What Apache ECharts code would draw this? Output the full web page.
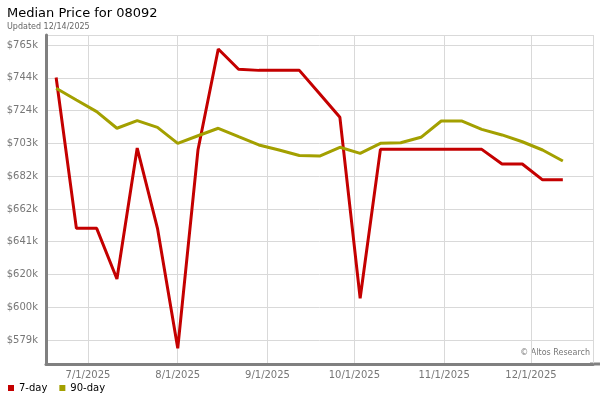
<!DOCTYPE html>
<html>
<head>
<meta charset="utf-8">
<script src="https://cdn.jsdelivr.net/npm/echarts@6/dist/echarts.min.js"></script>
<style>
html,body{margin:0;padding:0;background:#fff;}
#c{width:600px;height:400px;}
</style>
</head>
<body>
<div id="c"></div>
<script>
var dates = ['2025-06-20','2025-06-27','2025-07-04','2025-07-11','2025-07-18','2025-07-25','2025-08-01','2025-08-08','2025-08-15','2025-08-22','2025-08-29','2025-09-05','2025-09-12','2025-09-19','2025-09-26','2025-10-03','2025-10-10','2025-10-17','2025-10-24','2025-10-31','2025-11-07','2025-11-14','2025-11-21','2025-11-28','2025-12-05','2025-12-12'];
var sevenDay = [744500,649400,649400,617500,700000,649400,573800,699000,762500,749700,749000,749000,749000,734300,719400,605300,699200,699200,699200,699200,699200,699200,690000,690000,680000,680000];
var ninetyDay = [737700,730300,723000,712500,717300,713100,703000,707800,712500,707200,702000,698800,695300,695000,700500,696700,703000,703400,706800,717100,717100,711800,708300,704000,698800,691900];
var yTicks = [579000,599667,620333,641000,661667,682333,703000,723667,744333,765000];
var xTicks = ['2025-07-01','2025-08-01','2025-09-01','2025-10-01','2025-11-01','2025-12-01'];
var seriesNames = ['7-day','90-day'];

function parseD(s){var p=s.split('-');return new Date(+p[0],+p[1]-1,+p[2]).getTime();}
var xMin = new Date(2025,5,16,12).getTime();
var xMax = new Date(2025,11,22,10).getTime();
var yMin = 563900, yMax = 771300;
var xTickVals = xTicks.map(parseD);

var chart = echarts.init(document.getElementById('c'), null, {renderer:'canvas'});
var font = 'DejaVu Sans';
chart.setOption({
  animation:false,
  textStyle:{fontFamily:font},
  title:{
    text:'Median Price for 08092',
    subtext:'Updated 12/14/2025',
    left:2, top:2,
    itemGap:3,
    textStyle:{fontFamily:font,fontSize:13,fontWeight:'normal',color:'#000'},
    subtextStyle:{fontFamily:font,fontSize:8,color:'#666'}
  },
  legend:{
    left:3, top:378,
    itemWidth:6, itemHeight:6, itemGap:12,
    icon:'rect',
    textStyle:{fontFamily:font,fontSize:10,color:'#000'},
    data:seriesNames
  },
  grid:{left:46,right:7,top:35,bottom:36,containLabel:false},
  xAxis:{
    type:'value', min:xMin, max:xMax,
    axisLine:{show:true,lineStyle:{color:'#808080',width:3}},
    axisTick:{show:false,customValues:xTickVals.concat([xMax])},
    axisLabel:{customValues:xTickVals,color:'#777',fontSize:10,fontFamily:font,margin:6,
      formatter:function(v){var d=new Date(v);return (d.getMonth()+1)+'/'+d.getDate()+'/'+d.getFullYear();}},
    splitLine:{show:true,lineStyle:{color:'#d9d9d9',width:1}}
  },
  yAxis:{
    type:'value', min:yMin, max:yMax,
    axisLine:{show:true,lineStyle:{color:'#808080',width:3}},
    axisTick:{show:false,customValues:yTicks.concat([yMax])},
    axisLabel:{customValues:yTicks,color:'#777',fontSize:10,fontFamily:font,margin:8,
      formatter:function(v){return '$'+Math.round(v/1000)+'k';}},
    splitLine:{show:true,lineStyle:{color:'#d9d9d9',width:1}}
  },
  graphic:[{
    type:'text', right:10, top:349,
    style:{text:'\u00a9 Altos Research',fill:'#777',font:'8px DejaVu Sans'}
  },{
    type:'line', shape:{x1:590,y1:364,x2:600,y2:364},
    style:{stroke:'#808080',lineWidth:3}
  }],
  series:[
    {name:seriesNames[0],type:'line',symbol:'none',color:'#c40000',lineStyle:{width:3},
     data:dates.map(function(d,i){return [parseD(d),sevenDay[i]];})},
    {name:seriesNames[1],type:'line',symbol:'none',color:'#a3a000',lineStyle:{width:3},
     data:dates.map(function(d,i){return [parseD(d),ninetyDay[i]];})}
  ]
});
</script>
</body>
</html>
